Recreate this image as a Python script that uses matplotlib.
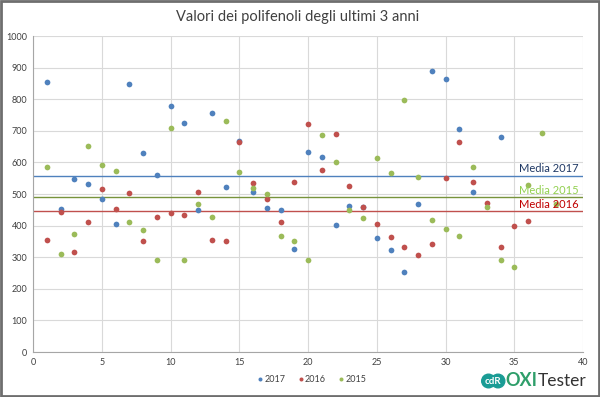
import matplotlib
matplotlib.use("Agg")
import matplotlib.pyplot as plt
from matplotlib.patches import Circle, Rectangle

plt.rcParams['font.family'] = ['Lato', 'DejaVu Sans']

x_2017 = list(range(1, 33)) + [34]
y_2017 = [853, 451, 546, 533, 483, 406, 848, 630, 560, 778, 726, 450, 756, 523,
          667, 506, 456, 448, 325, 633, 616, 401, 463, 458, 362, 323, 254, 467,
          888, 864, 705, 506, 679]

x_2016 = list(range(1, 37))
y_2016 = [354, 442, 315, 410, 516, 454, 502, 350, 427, 439, 434, 506, 355, 350,
          663, 534, 483, 411, 539, 722, 575, 689, 525, 460, 404, 364, 331, 306,
          341, 551, 666, 539, 473, 331, 399, 413]

x_2015 = list(range(1, 39))
y_2015 = [587, 310, 373, 653, 593, 574, 410, 387, 292, 710, 292, 468, 427, 731,
          570, 519, 500, 367, 352, 292, 686, 602, 448, 423, 614, 565, 796, 553,
          418, 388, 366, 587, 460, 290, 269, 528, 693, 467]

mean_2017 = 556
mean_2016 = 445
mean_2015 = 490

c17, c16, c15 = '#4F81BD', '#C0504D', '#9BBB59'

fig = plt.figure(figsize=(6.0, 3.97), dpi=100)
ax = fig.add_axes([33/600, 1-352/397, 550/600, 316/397])

ax.scatter(x_2017, y_2017, s=17, color=c17, zorder=3, linewidths=0, label='2017')
ax.scatter(x_2016, y_2016, s=17, color=c16, zorder=3, linewidths=0, label='2016')
ax.scatter(x_2015, y_2015, s=17, color=c15, zorder=3, linewidths=0, label='2015')

ax.axhline(mean_2017, color='#4F81BD', lw=1.0, zorder=2)
ax.axhline(mean_2015, color='#77933C', lw=1.0, zorder=2)
ax.axhline(mean_2016, color='#C0504D', lw=1.0, zorder=2)

ax.text(39.7, mean_2017 + 6, 'Media 2017', color='#1F3864', fontsize=8,
        ha='right', va='bottom', zorder=4)
ax.text(39.7, mean_2015 + 3, 'Media 2015', color='#92D050', fontsize=8,
        ha='right', va='bottom', zorder=4)
ax.text(39.7, mean_2016 + 5, 'Media 2016', color='#C00000', fontsize=8,
        ha='right', va='bottom', zorder=4)

ax.set_xlim(0, 40)
ax.set_ylim(0, 1000)
ax.set_xticks(range(0, 41, 5))
ax.set_yticks(range(0, 1001, 100))
ax.grid(True, color='#D9D9D9', lw=0.8, zorder=0)
ax.set_axisbelow(True)
for s in ['top', 'right']:
    ax.spines[s].set_visible(False)
for s in ['left', 'bottom']:
    ax.spines[s].set_color('#A6A6A6')
ax.tick_params(length=0, labelsize=6.5, colors='#404040', pad=4)

fig.text(298/600, 1-17/397, 'Valori dei polifenoli degli ultimi 3 anni',
         ha='center', va='center', fontsize=10.5, color='#404040')

leg = fig.legend(loc='center', bbox_to_anchor=(311/600, 1-379/397), ncol=3,
                 frameon=False, fontsize=6.5, handletextpad=0.0,
                 columnspacing=1.2, markerscale=0.7, handlelength=1.0)
for t in leg.get_texts():
    t.set_color('#404040')

# logo
logo_ax = fig.add_axes([0, 0, 1, 1], facecolor='none')
logo_ax.set_xlim(0, 600)
logo_ax.set_ylim(397, 0)
logo_ax.axis('off')
logo_ax.add_patch(Circle((488.5, 381), 6.8, color='#1A9C95'))
logo_ax.add_patch(Circle((498, 381), 6.8, color='#1A9C95'))
logo_ax.text(493.3, 381.5, 'cdR', color='white', fontsize=7, ha='center',
             va='center', fontweight='bold')
oxi = logo_ax.text(505, 381, 'OXI', color='#2E9E6A', fontsize=13, ha='left',
                   va='center', fontweight='bold')
fig.canvas.draw()
bb = oxi.get_window_extent(renderer=fig.canvas.get_renderer())
oxi_end = bb.x1 * 600 / fig.bbox.width
logo_ax.text(oxi_end + 0.5, 381, 'Tester', color='#333333', fontsize=12.5,
             ha='left', va='center')
logo_ax.add_patch(Rectangle((0.5, 0.5), 598.5, 395.5, fill=False,
                            edgecolor='#6E6E6E', lw=2))

fig.savefig('out.png', dpi=100, facecolor='white')
